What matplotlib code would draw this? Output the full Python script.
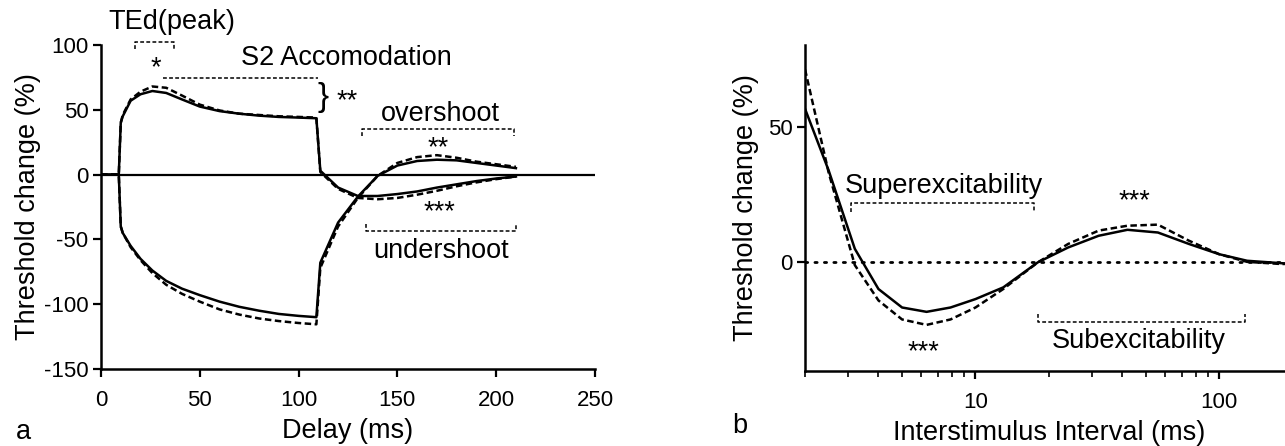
import numpy as np
import matplotlib.pyplot as plt
from matplotlib.ticker import FixedLocator, LogLocator, NullFormatter

plt.rcParams['font.family'] = ['Liberation Sans', 'DejaVu Sans']
plt.rcParams['axes.unicode_minus'] = False

# --- panel a: threshold electrotonus ---
delay = [0, 9, 10, 11, 15, 20, 26, 33, 41, 50, 60, 70, 80, 90, 100, 109,
         111, 120, 130, 140, 150, 160, 170, 180, 190, 200, 210]
ted_solid = [0, 0, 40, 45, 57, 62, 64.5, 63, 58, 52.5, 49, 47, 45.5, 44.5, 44, 43.5,
             3, -10, -16.5, -16.5, -15, -13, -10, -7.5, -5, -3, -1.5]
ted_dashed = [0, 0, 40, 46, 58, 64, 68, 67, 61, 54, 49.5, 47, 46, 45, 44.5, 44,
              2, -11, -18, -19, -18, -15.5, -12.5, -9, -6, -3.5, -1.5]
teh_solid = [0, 0, -40, -45, -55, -65, -74, -82, -88, -93, -98, -102, -105, -107.5, -109, -110,
             -68, -37, -17, -1, 7, 10.5, 11.5, 11, 9, 7, 5]
teh_dashed = [0, 0, -40, -45, -56, -66, -76, -85, -92, -98, -104, -108, -111, -113, -114.5, -115.5,
              -72, -40, -18, -1, 9, 13.5, 15, 13, 10, 8, 6]

# --- panel b: recovery cycle ---
isi = [2, 2.5, 3.2, 4, 5, 6.3, 7.9, 10, 13, 18, 24, 32, 42, 56, 75, 100, 130, 180, 200]
rc_solid = [56.5, 33.8, 5, -9.8, -16.6, -18.2, -16.6, -13.5, -9.2, 0, 5.5, 9.8, 12, 11,
            6.8, 3, 0.6, -0.3, -0.5]
rc_dashed = [71, 33, -1, -14, -21, -23, -21, -16.6, -9.8, 0, 6.8, 11.7, 13.5, 13.9,
             8, 3, 0.2, -0.6, -0.5]

fs_tick = 16
fs = 19.5
lw = 1.8
dash = (0, (2.6, 1.4))

fig = plt.figure(figsize=(12.85, 4.46), dpi=100)

ax = fig.add_axes([0.0786, 0.1726, 0.3844, 0.7265])
ax.plot(delay, ted_solid, color='black', lw=lw)
ax.plot(delay, teh_solid, color='black', lw=lw)
ax.plot(delay, ted_dashed, color='black', lw=lw, linestyle=dash)
ax.plot(delay, teh_dashed, color='black', lw=lw, linestyle=dash)
ax.axhline(0, color='black', lw=1.6)
ax.set_xlim(0, 250)
ax.set_ylim(-150, 100)
ax.set_xticks([0, 50, 100, 150, 200, 250])
ax.set_yticks([-150, -100, -50, 0, 50, 100])
ax.set_xlabel('Delay (ms)', fontsize=fs, labelpad=5)
ax.set_ylabel('Threshold change (%)', fontsize=fs, labelpad=2)

br = dict(color='black', lw=1.1, linestyle=(0, (2.5, 1.5)), clip_on=False)
# TEd(peak)
ax.plot([17, 17, 37, 37], [97, 102.5, 102.5, 97], **br)
ax.text(36, 118, 'TEd(peak)', fontsize=fs, ha='center', va='center')
ax.text(28, 82, '*', fontsize=fs, ha='center', va='center')
# S2 accommodation
ax.text(124, 90, 'S2 Accomodation', fontsize=fs, ha='center', va='center')
ax.plot([31.5, 110], [74.4, 74.4], **br)
ax.text(109.5, 59.5, '}', fontsize=24, ha='left', va='center')
ax.text(119, 57, '**', fontsize=fs, ha='left', va='center')
# overshoot
ax.text(172, 47, 'overshoot', fontsize=fs, ha='center', va='center')
ax.plot([132, 132, 209, 209], [29.5, 35, 35, 29.5], **br)
ax.text(170.5, 20, '**', fontsize=fs, ha='center', va='center')
# undershoot
ax.text(171.5, -29, '***', fontsize=fs, ha='center', va='center')
ax.plot([134, 134, 210, 210], [-38, -43.6, -43.6, -38], **br)
ax.text(172, -59, 'undershoot', fontsize=fs, ha='center', va='center')

ax2 = fig.add_axes([0.6265, 0.168, 0.3795, 0.731])
ax2.plot(isi, rc_solid, color='black', lw=lw)
ax2.plot(isi, rc_dashed, color='black', lw=lw, linestyle=dash)
ax2.axhline(0, color='black', lw=2.0, linestyle=(0, (0.8, 2.6)), dash_capstyle='round')
ax2.set_xscale('log')
ax2.set_xlim(2, 200)
ax2.set_ylim(-40, 80)
ax2.set_yticks([0, 50])
ax2.xaxis.set_major_locator(FixedLocator([10, 100]))
ax2.xaxis.set_minor_locator(LogLocator(base=10, subs=np.arange(2, 10)))
ax2.xaxis.set_minor_formatter(NullFormatter())
ax2.set_xticklabels(['10', '100'])
ax2.set_xlabel('Interstimulus Interval (ms)', fontsize=fs, labelpad=5)
ax2.set_ylabel('Threshold change (%)', fontsize=fs, labelpad=6)

ax2.text(7.4, 28.3, 'Superexcitability', fontsize=fs, ha='center', va='center')
ax2.plot([3.1, 3.1, 17.4, 17.4], [18.7, 21.9, 21.9, 18.7], **br)
ax2.text(45, 22.5, '***', fontsize=fs, ha='center', va='center')
ax2.text(6.1, -33, '***', fontsize=fs, ha='center', va='center')
ax2.plot([18, 18, 128, 128], [-19, -21.9, -21.9, -19], **br)
ax2.text(46.6, -29, 'Subexcitability', fontsize=fs, ha='center', va='center')

for a in (ax, ax2):
    a.spines['top'].set_visible(False)
    a.spines['right'].set_visible(False)
    a.spines['left'].set_linewidth(1.8)
    a.spines['bottom'].set_linewidth(1.8)
    a.tick_params(which='major', direction='out', length=6, width=1.6, labelsize=fs_tick)
    a.tick_params(axis='x', which='major', pad=9)
    a.tick_params(axis='y', which='major', pad=3)
    a.tick_params(which='minor', direction='out', length=4, width=1.2)

fig.text(0.012, 0.032, 'a', fontsize=fs, ha='left', va='center')
fig.text(0.570, 0.045, 'b', fontsize=fs, ha='left', va='center')

fig.savefig('out.png', dpi=100)
